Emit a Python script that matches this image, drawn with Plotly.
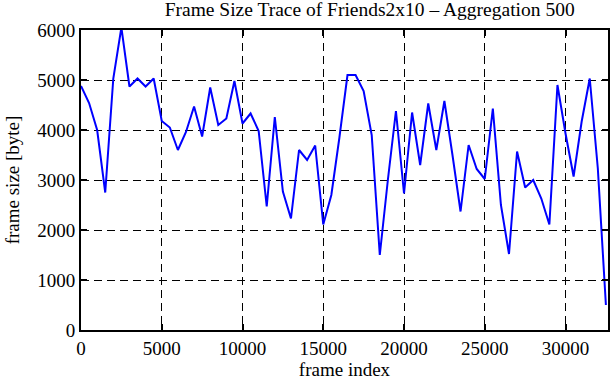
import plotly.graph_objects as go

frame_index = list(range(0, 33000, 500))
frame_size = [4880, 4540, 4000, 2750, 5030, 6050, 4870, 5030, 4870, 5030,
              4180, 4050, 3600, 3960, 4470, 3870, 4850, 4100, 4230, 4980,
              4130, 4330, 3980, 2470, 4260, 2770, 2230, 3600, 3400, 3690,
              2110, 2700, 3850, 5100, 5100, 4780, 3900, 1500, 3000, 4380,
              2730, 4350, 3300, 4530, 3600, 4580, 3500, 2370, 3700, 3220,
              3020, 4430, 2500, 1520, 3570, 2850, 3000, 2630, 2110, 4900,
              3930, 3070, 4170, 5030, 3230, 500]

x_ticks = [0, 5000, 10000, 15000, 20000, 25000, 30000]
x_tick_labels = ["0", "5000", "10000", "15000", "20000", "25000", "30000"]
y_ticks = [0, 1000, 2000, 3000, 4000, 5000, 6000]
y_tick_labels = ["0", "1000", "2000", "3000", "4000", "5000", "6000"]

font = "Liberation Serif"
fs = 19

fig = go.Figure(go.Scatter(
    x=frame_index, y=frame_size, mode="lines",
    line=dict(color="#0000ff", width=2),
))

axis_common = dict(
    showline=True, linecolor="black", linewidth=2, mirror="allticks",
    ticks="inside", ticklen=6, tickwidth=1.5, tickcolor="black",
    showgrid=True, gridcolor="black", gridwidth=1, griddash="8px,5px",
    zeroline=False, automargin=False,
    tickfont=dict(family=font, size=fs, color="black"),
)

fig.update_layout(
    width=611, height=380,
    margin=dict(l=81, r=3, t=30, b=50),
    paper_bgcolor="white", plot_bgcolor="white",
    showlegend=False,
    title=dict(text="Frame Size Trace of Friends2x10 – Aggregation 500",
               x=0.605, xanchor="center", y=0.976, yanchor="middle",
               font=dict(family=font, size=19.5, color="black")),
    xaxis=dict(range=[0, 32630], tickvals=x_ticks, ticktext=x_tick_labels,
               title=dict(text="frame index", standoff=10,
                          font=dict(family=font, size=fs, color="black")),
               **axis_common),
    yaxis=dict(range=[0, 6000], tickvals=y_ticks, ticktext=y_tick_labels,
               title=dict(text="frame size [byte]", standoff=13,
                          font=dict(family=font, size=fs, color="black")),
               **axis_common),
)

fig.write_html("out.html",
               config={"displayModeBar": False},
               post_script="document.body.style.margin='0';"
                           "document.body.style.overflow='hidden';")
